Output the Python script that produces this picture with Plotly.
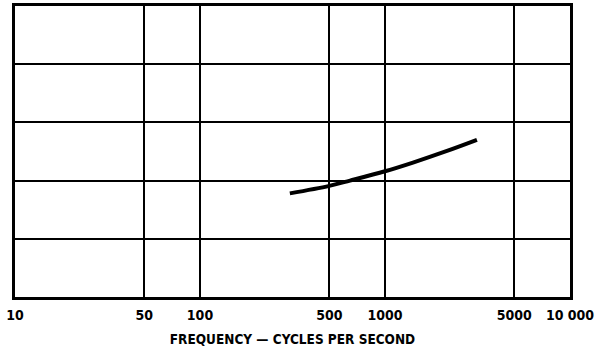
import plotly.graph_objects as go

freq = [306, 500, 647, 1000, 1416, 2163, 3140]
response = [1.78, 1.91, 2.0, 2.16, 2.31, 2.51, 2.70]

tick_vals = [10, 50, 100, 500, 1000, 5000, 10000]
tick_text = ["10", "50", "100", "500", "1000", "5000", "10 000"]

font_family = "DejaVu Sans Condensed, DejaVu Sans, sans-serif"

fig = go.Figure()
fig.add_trace(go.Scatter(
    x=freq, y=response, mode="lines",
    line=dict(color="black", width=4, shape="spline"),
    showlegend=False, hoverinfo="skip",
))

fig.update_layout(
    width=603, height=349,
    margin=dict(l=15, r=33, t=6, b=52),
    paper_bgcolor="white", plot_bgcolor="white",
    font=dict(family=font_family, color="black"),
    hovermode=False,
    xaxis=dict(
        type="log", range=[1, 4],
        automargin=False,
        tickmode="array", tickvals=tick_vals, ticktext=tick_text,
        tickfont=dict(family=font_family, size=14, color="black", weight="bold"),
        showgrid=True, gridcolor="black", gridwidth=1.5,
        showline=True, linecolor="black", linewidth=2.5, mirror=True,
        ticks="", ticklabelstandoff=3,
        zeroline=False,
        title=dict(text="FREQUENCY — CYCLES PER SECOND",
                   font=dict(family=font_family, size=13.5, color="black", weight="bold"),
                   standoff=14),
    ),
    yaxis=dict(
        range=[0, 5], dtick=1,
        automargin=False,
        showticklabels=False, ticks="",
        showgrid=True, gridcolor="black", gridwidth=1.5,
        showline=True, linecolor="black", linewidth=2.5, mirror=True,
        zeroline=False,
    ),
)

fig.write_html(
    "out.html",
    config={"displayModeBar": False},
    post_script="document.body.style.margin='0';document.body.style.overflow='hidden';",
)
